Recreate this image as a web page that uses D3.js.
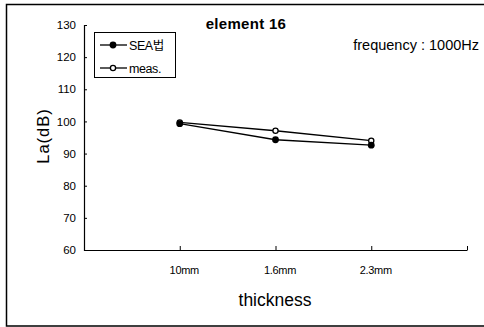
<!DOCTYPE html>
<html>
<head>
<meta charset="utf-8">
<script src="https://cdn.jsdelivr.net/npm/d3@7"></script>
<style>
  body { margin: 0; background: #fff; }
  svg { font-family: "Liberation Sans", Arial, sans-serif; }
</style>
</head>
<body>
<div id="chart"></div>
<script>
// chart data
const categories = ["10mm", "1.6mm", "2.3mm"];
const seaValues = [99.3, 94.3, 92.6];
const measValues = [99.7, 97.1, 94.0];
const yTicks = [60, 70, 80, 90, 100, 110, 120, 130];

const width = 484, height = 327;
const plot = {left: 84, right: 467, top: 25, bottom: 250};

const svg = d3.select("#chart").append("svg")
    .attr("width", width)
    .attr("height", height);

// outer frame (right edge is cut off in the picture)
svg.append("path")
    .attr("d", "M484,4.5 H6.5 V326 H484")
    .attr("fill", "none")
    .attr("stroke", "#000")
    .attr("stroke-width", 1.5);

// scales: 3 categories inside 4 equal intervals
const x = d3.scaleLinear().domain([0, 4]).range([plot.left, plot.right]);
const y = d3.scaleLinear().domain([60, 130]).range([plot.bottom, plot.top]);

// y axis
const yAxis = svg.append("g")
    .attr("transform", `translate(${plot.left},0)`)
    .call(d3.axisLeft(y).tickValues(yTicks).tickSize(-3).tickPadding(8));
yAxis.select(".domain").attr("stroke-width", 1.2);
yAxis.selectAll("text").attr("font-size", 11.5).attr("font-family", "Liberation Sans, Arial, sans-serif");

// x axis
const xAxis = svg.append("g")
    .attr("transform", `translate(0,${plot.bottom})`)
    .call(d3.axisBottom(x).tickValues([1, 2, 3, 4]).tickSize(-4).tickSizeOuter(0)
        .tickFormat(d => categories[d - 1] || ""));
xAxis.select(".domain").attr("stroke-width", 1.2);
xAxis.selectAll("text")
    .attr("font-size", 11)
    .attr("font-family", "Liberation Sans, Arial, sans-serif")
    .attr("dy", "1.9em")
    .attr("dx", 4)
    .attr("letter-spacing", -0.3);

// series lines
const line = d3.line()
    .x((d, i) => x(i + 1))
    .y(d => y(d));

svg.append("path").datum(measValues)
    .attr("d", line).attr("fill", "none").attr("stroke", "#000").attr("stroke-width", 1.3);
svg.append("path").datum(seaValues)
    .attr("d", line).attr("fill", "none").attr("stroke", "#000").attr("stroke-width", 1.3);

svg.selectAll(".meas").data(measValues).enter().append("circle")
    .attr("class", "meas")
    .attr("cx", (d, i) => x(i + 1)).attr("cy", d => y(d))
    .attr("r", 2.6).attr("fill", "#fff").attr("stroke", "#000").attr("stroke-width", 1.3);
svg.selectAll(".sea").data(seaValues).enter().append("circle")
    .attr("class", "sea")
    .attr("cx", (d, i) => x(i + 1)).attr("cy", d => y(d))
    .attr("r", 3.4).attr("fill", "#000");

// titles
svg.append("text")
    .attr("x", 246).attr("y", 29)
    .attr("text-anchor", "middle")
    .attr("font-size", 15).attr("font-weight", "bold")
    .attr("letter-spacing", 0.3)
    .text("element 16");

svg.append("text")
    .attr("x", 479).attr("y", 50)
    .attr("text-anchor", "end")
    .attr("font-size", 14.5)
    .text("frequency : 1000Hz");

svg.append("text")
    .attr("x", 275).attr("y", 306)
    .attr("text-anchor", "middle")
    .attr("font-size", 17.5)
    .text("thickness");

svg.append("text")
    .attr("transform", "translate(49,136) rotate(-90)")
    .attr("text-anchor", "middle")
    .attr("font-size", 16.5)
    .attr("letter-spacing", 1)
    .text("La(dB)");

// legend
const legend = svg.append("g");
legend.append("rect")
    .attr("x", 94.5).attr("y", 32.5).attr("width", 81).attr("height", 45)
    .attr("fill", "#fff").attr("stroke", "#000").attr("stroke-width", 1);

const legendItems = [
  {label: "SEA법", filled: true, yy: 45},
  {label: "meas.", filled: false, yy: 68}
];
legendItems.forEach(it => {
  legend.append("line")
      .attr("x1", 100).attr("x2", 127).attr("y1", it.yy).attr("y2", it.yy)
      .attr("stroke", "#000").attr("stroke-width", 1.3);
  legend.append("circle")
      .attr("cx", 113).attr("cy", it.yy)
      .attr("r", it.filled ? 3.4 : 2.6)
      .attr("fill", it.filled ? "#000" : "#fff")
      .attr("stroke", "#000").attr("stroke-width", it.filled ? 0 : 1.3);
  legend.append("text")
      .attr("x", 129).attr("y", it.yy + 4.5)
      .attr("font-size", 12.5)
      .attr("font-family", "Liberation Sans, 'Noto Sans CJK KR', sans-serif")
      .attr("letter-spacing", -0.4)
      .text(it.label);
});
</script>
</body>
</html>
